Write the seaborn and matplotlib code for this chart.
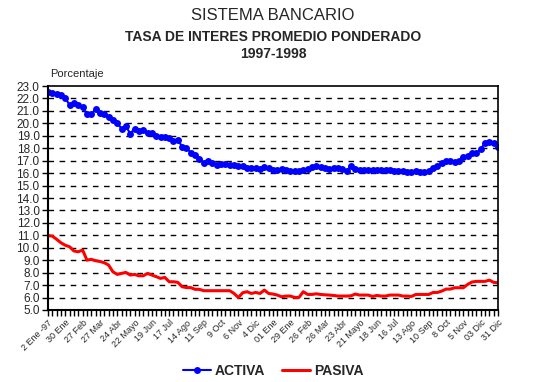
import matplotlib
matplotlib.use("Agg")
import matplotlib.pyplot as plt
import seaborn as sns
import pandas as pd
import numpy as np
from matplotlib.lines import Line2D

activa = [22.54, 22.46, 22.38, 22.30, 22.06, 21.45, 21.66, 21.45, 21.29, 20.72,
          20.72, 21.15, 20.86, 20.72, 20.53, 20.27, 20.03, 19.57, 19.78, 19.17,
          19.57, 19.41, 19.50, 19.25, 19.20, 18.98, 18.93, 18.93, 18.80, 18.60,
          18.66, 18.13, 18.05, 17.64, 17.45, 17.16, 16.84, 17.00, 16.84, 16.63,
          16.76, 16.70, 16.68, 16.63, 16.55, 16.60, 16.41, 16.44, 16.44, 16.31,
          16.47, 16.44, 16.25, 16.28, 16.30, 16.26, 16.20, 16.20, 16.20, 16.26,
          16.30, 16.46, 16.57, 16.46, 16.43, 16.35, 16.38, 16.38, 16.33, 16.20,
          16.57, 16.33, 16.26, 16.26, 16.28, 16.26, 16.28, 16.26, 16.28, 16.26,
          16.17, 16.20, 16.17, 16.12, 16.12, 16.20, 16.12, 16.12, 16.15, 16.38,
          16.60, 16.79, 17.00, 17.00, 16.90, 17.00, 17.32, 17.37, 17.64, 17.64,
          17.91, 18.45, 18.53, 18.40, 18.13]

pasiva = [10.97, 10.94, 10.68, 10.40, 10.20, 10.08, 9.74, 9.68, 9.82, 9.01,
          9.07, 8.96, 8.90, 8.80, 8.61, 8.07, 7.86, 7.94, 8.02, 7.81,
          7.86, 7.75, 7.75, 7.94, 7.81, 7.68, 7.54, 7.62, 7.27, 7.27,
          7.22, 6.87, 6.80, 6.80, 6.66, 6.66, 6.55, 6.55, 6.55, 6.55,
          6.55, 6.55, 6.55, 6.33, 6.00, 6.39, 6.47, 6.33, 6.41, 6.33,
          6.60, 6.33, 6.28, 6.20, 6.06, 6.12, 6.12, 6.01, 6.01, 6.47,
          6.25, 6.25, 6.30, 6.25, 6.22, 6.20, 6.17, 6.12, 6.12, 6.12,
          6.14, 6.28, 6.20, 6.20, 6.20, 6.09, 6.17, 6.12, 6.12, 6.20,
          6.20, 6.20, 6.12, 6.12, 6.09, 6.25, 6.25, 6.25, 6.25, 6.41,
          6.41, 6.52, 6.68, 6.68, 6.79, 6.79, 6.79, 7.06, 7.25, 7.30,
          7.30, 7.30, 7.40, 7.22, 7.19]

tick_labels = ["2 Ene -97", "30 Ene", "27 Feb", "27 Mar", "24 Abr", "22 Mayo",
               "19 Jun", "17 Jul", "14 Ago", "11 Sep", "9 Oct", "6 Nov", "4 Dic",
               "01 Ene", "29 Ene", "26 Feb", "26 Mar", "23 Abr", "21 Mayo",
               "18 Jun", "16 Jul", "13 Ago", "10 Sep", "8 Oct", "5 Nov",
               "03 Dic", "31 Dic"]

weeks = np.arange(len(activa))
df = pd.DataFrame({"semana": weeks, "ACTIVA": activa, "PASIVA": pasiva})

sns.set_style("white")
plt.rcParams["font.family"] = ["Liberation Sans", "DejaVu Sans"]

fig = plt.figure(figsize=(5.46, 3.82), dpi=100)
ax = fig.add_axes([48/546, 1-310/382, 450/546, 224/382])

sns.lineplot(data=df, x="semana", y="ACTIVA", ax=ax, color="#0000ff", lw=1.5,
             marker="o", markersize=5, markeredgewidth=0, legend=False)
sns.lineplot(data=df, x="semana", y="PASIVA", ax=ax, color="#ff0000", lw=2.2,
             legend=False)

ax.set_xlim(0, len(activa) - 1)
ax.set_ylim(5, 23)
ax.set_yticks(np.arange(5, 24, 1))
ax.set_yticklabels([f"{v:.1f}" for v in np.arange(5, 24, 1)], fontsize=8.5)
ax.set_xticks(np.arange(0, len(activa), 4))
ax.set_xticks(weeks, minor=True)
ax.set_xticklabels(tick_labels, rotation=45, ha="right", rotation_mode="anchor",
                   fontsize=6.5)
ax.tick_params(axis="x", which="both", direction="out", length=4, width=1,
               color="black", bottom=True)
ax.tick_params(axis="y", direction="out", length=4, width=1, color="black", left=True,
               pad=2)
ax.tick_params(axis="x", pad=2)
ax.set_xlabel("")
ax.set_ylabel("")
for y in np.arange(6, 23, 1):
    ax.axhline(y, color="black", lw=1, ls=(0, (4, 4)), zorder=0)
for s in ax.spines.values():
    s.set_color("black")
    s.set_linewidth(1.2)
ax.spines["left"].set_linewidth(1.5)
ax.spines["bottom"].set_linewidth(1.5)

handles = [Line2D([], [], color="#0000ff", lw=1.5, marker="o", markersize=5,
                  markeredgewidth=0),
           Line2D([], [], color="#ff0000", lw=2.2)]
fig.legend(handles, ["ACTIVA", "PASIVA"], loc="center",
           bbox_to_anchor=(0.5, 1-371/382), ncol=2, frameon=False,
           prop={"weight": "bold", "size": 10}, handlelength=2.0,
           columnspacing=1.2, handletextpad=0.3)

fig.text(0.5, 1-15/382, "SISTEMA BANCARIO", ha="center", va="center", fontsize=12)
fig.text(0.5, 1-37/382, "TASA DE INTERES PROMEDIO PONDERADO", ha="center",
         va="center", fontsize=10, weight="bold")
fig.text(0.5, 1-54/382, "1997-1998", ha="center", va="center", fontsize=10,
         weight="bold")
fig.text(50/546, 1-74/382, "Porcentaje", ha="left", va="center", fontsize=8)

fig.savefig("out.png", dpi=100, facecolor="white")
